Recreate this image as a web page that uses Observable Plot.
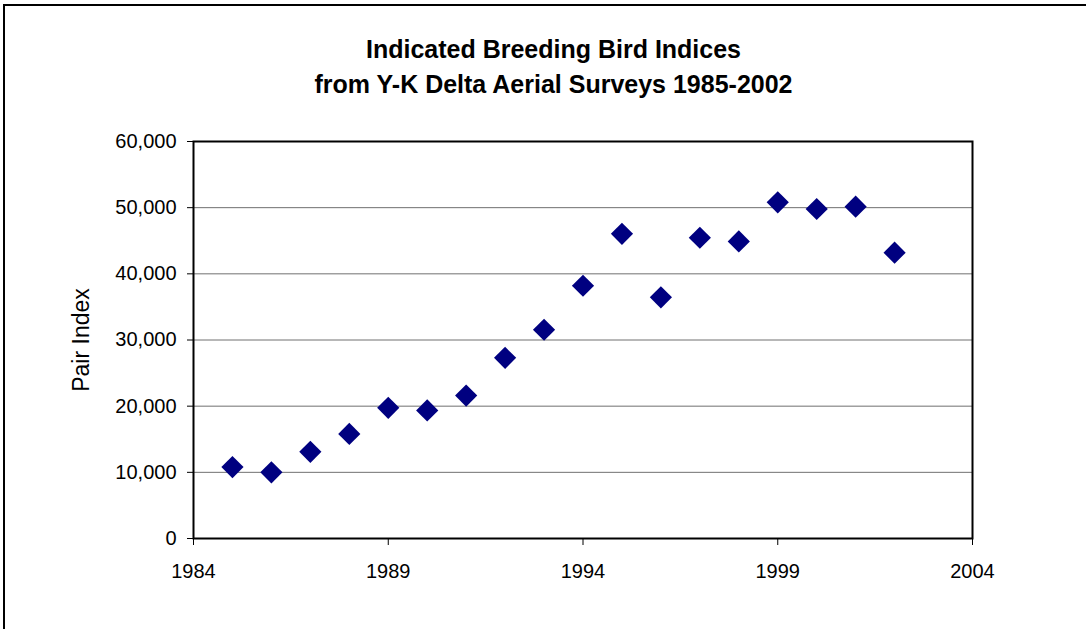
<!DOCTYPE html>
<html>
<head>
<meta charset="utf-8">
<script src="https://cdn.jsdelivr.net/npm/d3@7"></script>
<script src="https://cdn.jsdelivr.net/npm/@observablehq/plot@0.6"></script>
<style>
  html, body { margin: 0; padding: 0; background: #fff; overflow: hidden; }
  #wrap { position: relative; width: 1086px; height: 629px; overflow: hidden; font-family: "Liberation Sans", Arial, sans-serif; }
  #border { position: absolute; left: 3px; top: 4px; width: 3000px; height: 3000px; border-top: 2px solid #000; border-left: 2px solid #000; pointer-events: none; }
  #title { position: relative; height: 121px; box-sizing: border-box; padding-top: 32px; width: 1107px; text-align: center; font-weight: bold; font-size: 25px; line-height: 35px; color: #000; }
  #chart svg { display: block; }
</style>
</head>
<body>
<div id="wrap">
  <div id="border"></div>
  <div id="title">Indicated Breeding Bird Indices<br>from Y-K Delta Aerial Surveys 1985-2002</div>
  <div id="chart"></div>
</div>
<script>
const years = [1985, 1986, 1987, 1988, 1989, 1990, 1991, 1992, 1993, 1994, 1995, 1996, 1997, 1998, 1999, 2000, 2001, 2002];
const pairIndex = [10800, 10000, 13100, 15800, 19750, 19350, 21600, 27300, 31550, 38200, 46050, 36450, 45450, 44900, 50800, 49800, 50150, 43200];
const xTicks = [1984, 1989, 1994, 1999, 2004];
const yTicks = [0, 10000, 20000, 30000, 40000, 50000, 60000];
const gridValues = [10000, 20000, 30000, 40000, 50000];
const yLabel = "Pair Index";

const data = years.map((year, i) => ({year, value: pairIndex[i]}));

const chart = Plot.plot({
  width: 1086,
  height: 508,
  marginLeft: 193,
  marginRight: 114,
  marginTop: 20,
  marginBottom: 91,
  style: {fontFamily: "'Liberation Sans', Arial, sans-serif", background: "#fff", color: "#000"},
  x: {domain: [1984, 2004]},
  y: {domain: [0, 60000]},
  marks: [
    Plot.ruleY(gridValues, {stroke: "#707070", strokeWidth: 1}),
    Plot.frame({stroke: "#000", strokeWidth: 2}),
    Plot.axisX({ticks: xTicks, tickFormat: d => String(d), tickSize: 7, tickPadding: 18, fontSize: 20, label: null, stroke: "#000"}),
    Plot.axisY({ticks: yTicks, tickFormat: d3.format(","), tickSize: 6, tickPadding: 11, fontSize: 20, label: null, stroke: "#000"}),
    Plot.text([yLabel], {frameAnchor: "left", dx: -112, rotate: -90, text: d => d, fontSize: 23, textAnchor: "middle", lineAnchor: "middle", fill: "#000"}),
    Plot.dot(data, {x: "year", y: "value", symbol: "diamond2", r: 10, fill: "#000080", stroke: null})
  ]
});
document.getElementById("chart").appendChild(chart);
</script>
</body>
</html>
